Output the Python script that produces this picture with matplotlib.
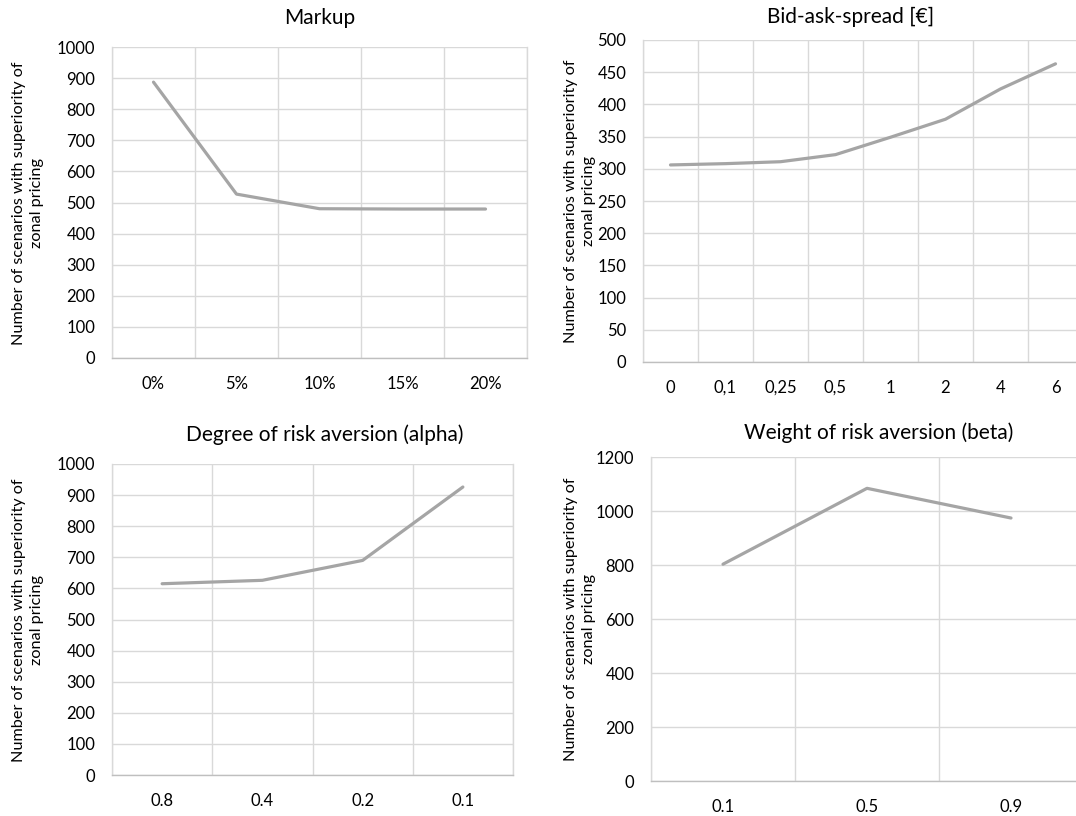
import numpy as np
import matplotlib.pyplot as plt

plt.rcParams['font.family'] = ['Lato', 'DejaVu Sans']

# ---- data ----
markup_labels = ["0%", "5%", "10%", "15%", "20%"]
markup_values = [887, 527, 480, 479, 479]

spread_labels = ["0", "0,1", "0,25", "0,5", "1", "2", "4", "6"]
spread_values = [306, 308, 311, 322, 349, 377, 424, 463]

alpha_labels = ["0.8", "0.4", "0.2", "0.1"]
alpha_values = [615, 626, 690, 926]

beta_labels = ["0.1", "0.5", "0.9"]
beta_values = [803, 1084, 974]

YLABEL = "Number of scenarios with superiority of\nzonal pricing"
LINE_C = "#a5a5a5"
GRID_C = "#d9d9d9"

W, H = 1076, 816


def px_axes(fig, left, top, right, bottom):
    return fig.add_axes([left / W, 1 - bottom / H, (right - left) / W, (bottom - top) / H])


def draw(ax, labels, values, ymax, ystep):
    n = len(labels)
    x = np.arange(n)
    ax.plot(x, values, color=LINE_C, lw=2.3, solid_capstyle="round", zorder=3)
    ax.set_xlim(-0.5, n - 0.5)
    ax.set_ylim(0, ymax)
    ax.set_xticks(x)
    ax.set_xticklabels(labels)
    ax.set_xticks(np.arange(n + 1) - 0.5, minor=True)
    ax.set_yticks(np.arange(0, ymax + 1, ystep))
    ax.grid(True, axis="y", which="major", color=GRID_C, lw=1.0)
    ax.grid(True, axis="x", which="minor", color=GRID_C, lw=1.0)
    ax.tick_params(which="both", length=0, labelsize=12, labelcolor="#000000")
    ax.tick_params(axis="y", pad=12)
    ax.tick_params(axis="x", pad=13)
    ax.spines["top"].set_visible(False)
    for s in ["left", "right"]:
        ax.spines[s].set_color(GRID_C)
        ax.spines[s].set_linewidth(1.0)
    ax.spines["bottom"].set_color("#bfbfbf")
    ax.spines["bottom"].set_linewidth(1.0)
    ax.set_axisbelow(True)


fig = plt.figure(figsize=(W / 100, H / 100), dpi=100)

ax1 = px_axes(fig, 112, 47, 527, 358)
draw(ax1, markup_labels, markup_values, 1000, 100)
ax2 = px_axes(fig, 643, 40, 1083, 362)
draw(ax2, spread_labels, spread_values, 500, 50)
ax3 = px_axes(fig, 112, 464, 513, 775)
draw(ax3, alpha_labels, alpha_values, 1000, 100)
ax4 = px_axes(fig, 651, 457, 1083, 781)
draw(ax4, beta_labels, beta_values, 1200, 200)

titles = [("Markup", 320, 18), ("Bid-ask-spread [\u20ac]", 851, 17),
          ("Degree of risk aversion (alpha)", 325, 435),
          ("Weight of risk aversion (beta)", 879, 433)]
for t, xp, yp in titles:
    fig.text(xp / W, 1 - yp / H, t, ha="center", va="center", fontsize=15)

for xp, yp in [(28, 203), (580, 201), (28, 620), (580, 619)]:
    fig.text(xp / W, 1 - yp / H, YLABEL, rotation=90, ha="center", va="center",
             multialignment="center", fontsize=11.7, linespacing=1.4)

fig.savefig("out.png", dpi=100)
